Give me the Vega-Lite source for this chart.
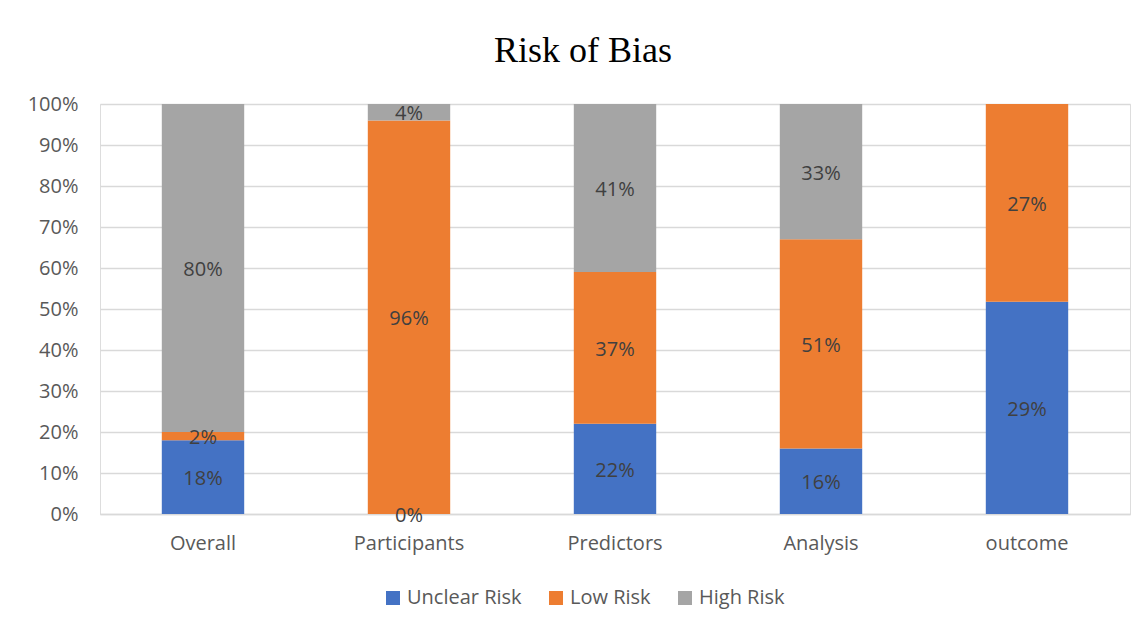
{
  "$schema": "https://vega.github.io/schema/vega-lite/v6.json",
  "autosize": {"type": "none"},
  "width": 1030,
  "height": 410,
  "padding": {"left": 100, "top": 104, "right": 15, "bottom": 118},
  "background": "white",
  "title": {
    "text": "Risk of Bias",
    "font": "Liberation Serif",
    "fontSize": 36,
    "fontWeight": "normal",
    "color": "#000000",
    "anchor": "middle",
    "offset": 24,
    "dx": -32
  },
  "data": {
    "values": [
      {"category": "Overall", "risk": "Unclear Risk", "value": 0.18},
      {"category": "Overall", "risk": "Low Risk", "value": 0.02},
      {"category": "Overall", "risk": "High Risk", "value": 0.80},
      {"category": "Participants", "risk": "Unclear Risk", "value": 0},
      {"category": "Participants", "risk": "Low Risk", "value": 0.96},
      {"category": "Participants", "risk": "High Risk", "value": 0.04},
      {"category": "Predictors", "risk": "Unclear Risk", "value": 0.22},
      {"category": "Predictors", "risk": "Low Risk", "value": 0.37},
      {"category": "Predictors", "risk": "High Risk", "value": 0.41},
      {"category": "Analysis", "risk": "Unclear Risk", "value": 0.16},
      {"category": "Analysis", "risk": "Low Risk", "value": 0.51},
      {"category": "Analysis", "risk": "High Risk", "value": 0.33},
      {"category": "outcome", "risk": "Unclear Risk", "value": 0.29},
      {"category": "outcome", "risk": "Low Risk", "value": 0.27}
    ]
  },
  "transform": [
    {
      "stack": "value",
      "groupby": ["category"],
      "sort": [{"field": "risk", "order": "descending"}],
      "offset": "normalize",
      "as": ["y0", "y1"]
    },
    {"calculate": "(datum.y0 + datum.y1) / 2", "as": "ymid"}
  ],
  "encoding": {
    "x": {
      "field": "category",
      "type": "nominal",
      "sort": ["Overall", "Participants", "Predictors", "Analysis", "outcome"],
      "scale": {"paddingInner": 0.6, "paddingOuter": 0.3},
      "axis": {
        "title": null,
        "labelAngle": 0,
        "labelFont": "Open Sans",
        "labelFontSize": 20,
        "labelColor": "#595959",
        "labelPadding": 19,
        "ticks": false,
        "domain": true,
        "domainColor": "#d9d9d9",
        "domainWidth": 1.5,
        "grid": false
      }
    }
  },
  "layer": [
    {
      "mark": {"type": "bar"},
      "encoding": {
        "y": {
          "field": "y0",
          "type": "quantitative",
          "scale": {"domain": [0, 1]},
          "axis": {
            "title": null,
            "format": ".0%",
            "values": [0, 0.1, 0.2, 0.3, 0.4, 0.5, 0.6, 0.7, 0.8, 0.9, 1],
            "labelFont": "Open Sans",
            "labelFontSize": 20,
            "labelColor": "#595959",
            "labelPadding": 22,
            "ticks": false,
            "domain": false,
            "grid": true,
            "gridColor": "#d9d9d9",
            "gridWidth": 1.5
          }
        },
        "y2": {"field": "y1"},
        "color": {
          "field": "risk",
          "type": "nominal",
          "scale": {
            "domain": ["Unclear Risk", "Low Risk", "High Risk"],
            "range": ["#4472C4", "#ED7D31", "#A5A5A5"]
          },
          "legend": {
            "title": null,
            "orient": "none",
            "direction": "horizontal",
            "legendX": 283,
            "legendY": 484,
            "symbolType": "square",
            "symbolSize": 196,
            "symbolStrokeWidth": 0,
            "labelFont": "Open Sans",
            "labelFontSize": 20,
            "labelColor": "#595959",
            "columnPadding": 24,
            "labelOffset": 4
          }
        }
      }
    },
    {
      "mark": {
        "type": "text",
        "font": "Open Sans",
        "fontSize": 20,
        "color": "#404040",
        "baseline": "middle",
        "dy": 2
      },
      "encoding": {
        "y": {"field": "ymid", "type": "quantitative"},
        "text": {"field": "value", "type": "quantitative", "format": ".0%"}
      }
    }
  ]
}
